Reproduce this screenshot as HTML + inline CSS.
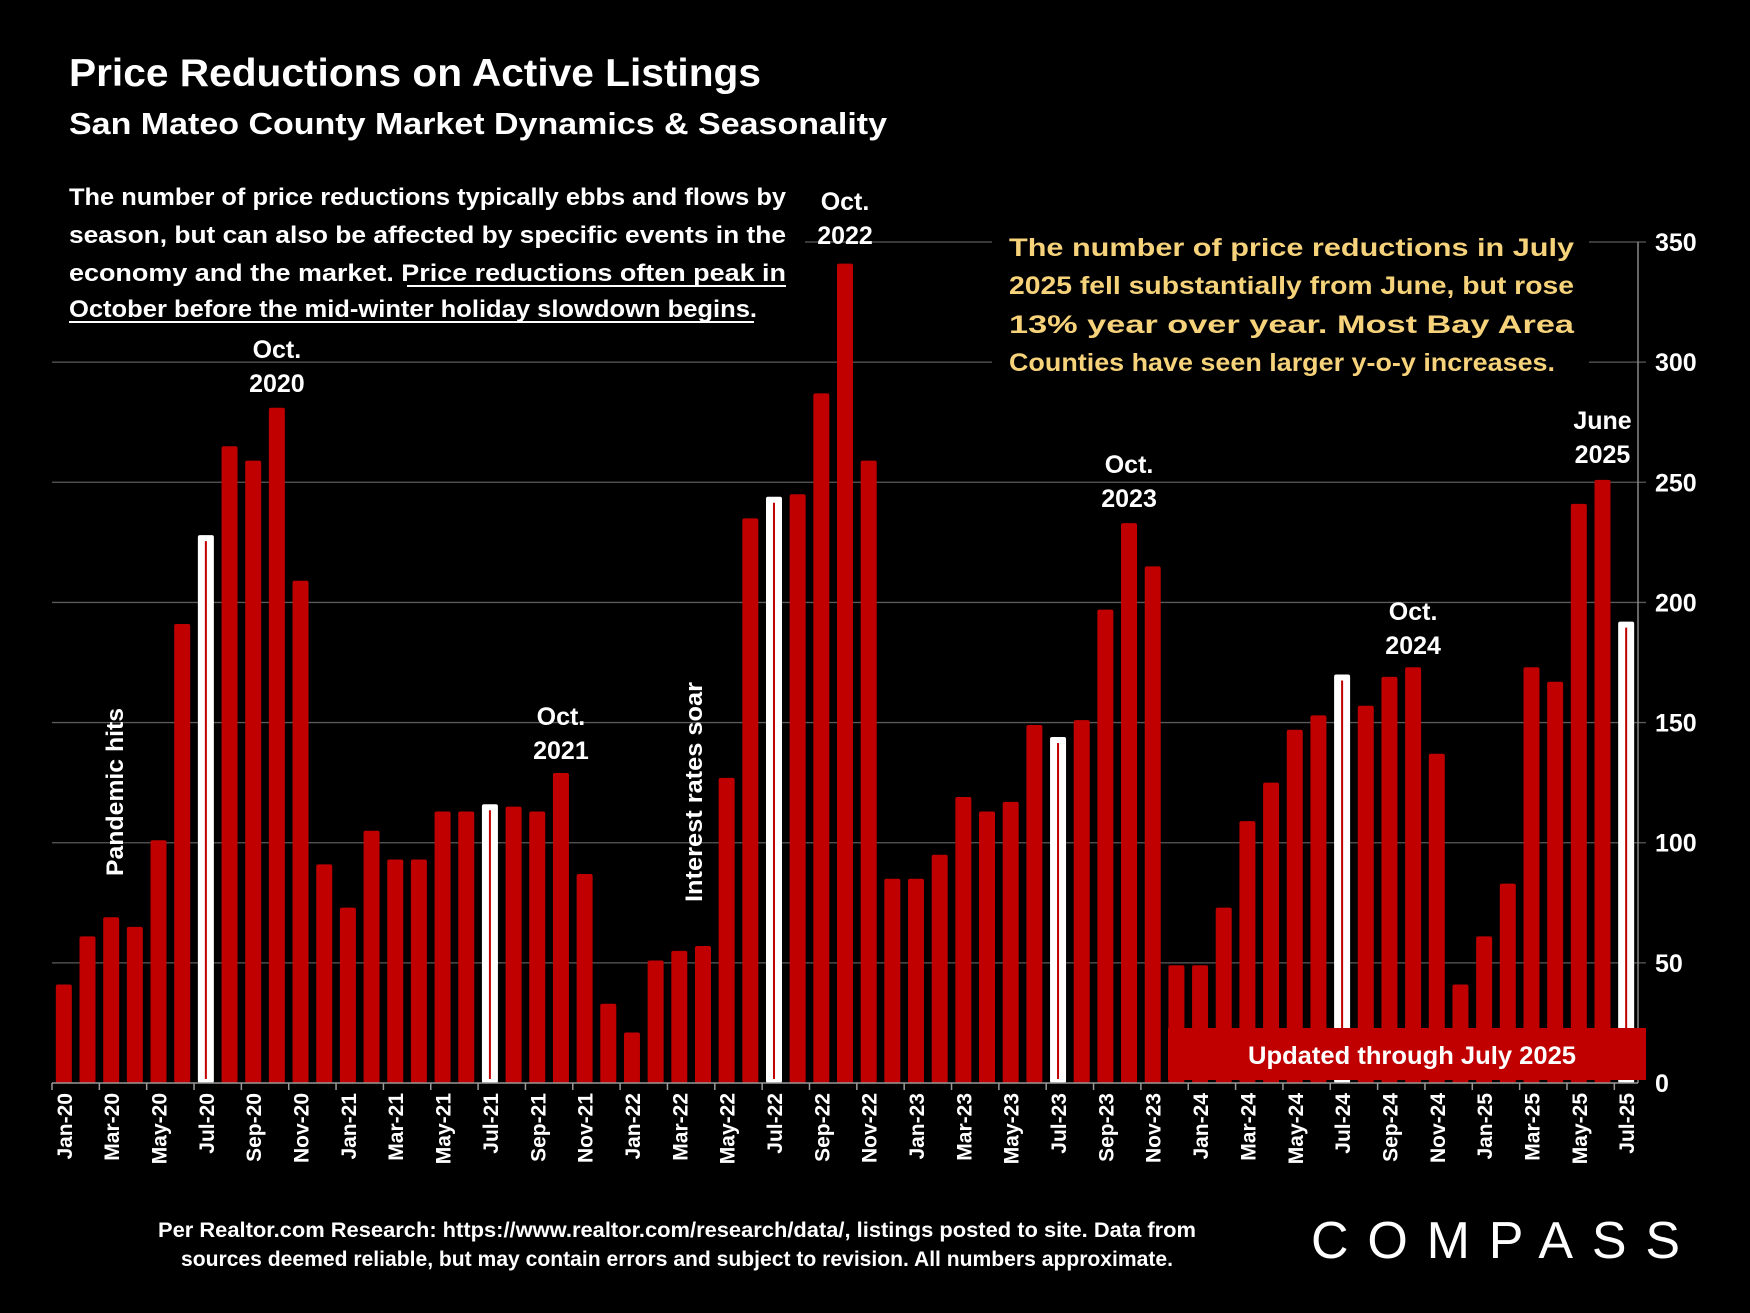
<!DOCTYPE html>
<html><head><meta charset="utf-8"><style>
html,body{margin:0;padding:0;background:#000;}
svg{display:block;font-family:"Liberation Sans",sans-serif;font-weight:bold;}
</style></head><body>
<svg id="chart" width="1750" height="1313" viewBox="0 0 1750 1313">
<rect width="1750" height="1313" fill="#000"/>
<g id="grid"></g>
<g id="bars"></g>
<g id="axes"></g>
<g id="overlay"></g>
</svg>
<script>
const months = ["Jan","Feb","Mar","Apr","May","Jun","Jul","Aug","Sep","Oct","Nov","Dec"];
const categories = [];
for (let y = 20; y <= 25; y++) for (let m = 0; m < 12; m++) { if (y === 25 && m > 6) break; categories.push(months[m] + "-" + y); }
const values = [41,61,69,65,101,191,228,265,259,281,209,91,
73,105,93,93,113,113,116,115,113,129,87,33,
21,51,55,57,127,235,244,245,287,341,259,85,
85,95,119,113,117,149,144,151,197,233,215,49,
49,73,109,125,147,153,170,157,169,173,137,41,
61,83,173,167,241,251,192];
const highlighted = ["Jul-20","Jul-21","Jul-22","Jul-23","Jul-24","Jul-25"];
const yTicks = [0,50,100,150,200,250,300,350];

const NS = "http://www.w3.org/2000/svg";
const X0 = 52, X1 = 1638, Y0 = 1083, YTOP = 242, YMAX = 350;
const band = (X1 - X0) / categories.length;
const xC = i => X0 + band * (i + 0.5);
const yS = v => Y0 - (v / YMAX) * (Y0 - YTOP);
function mk(tag, attrs, parent, text) {
  const e = document.createElementNS(NS, tag);
  for (const k in attrs) e.setAttribute(k, attrs[k]);
  if (text !== undefined) e.textContent = text;
  parent.appendChild(e);
  return e;
}
const grid = document.getElementById("grid"), barsG = document.getElementById("bars"),
      axes = document.getElementById("axes"), ov = document.getElementById("overlay");

yTicks.forEach(t => {
  if (t > 0) {
    const l = mk("line", {x1: X0, x2: X1 + 8, y1: yS(t), y2: yS(t), stroke: "#5a5a5a", "stroke-width": 1.3}, grid);
    
    
  }
  const tx = mk("text", {x: 1655, y: yS(t) + 9, fill: "#fff", "font-size": 25}, axes, String(t));
  
  
});
const ya = mk("line", {x1: X1, x2: X1, y1: YTOP, y2: Y0, stroke: "#888", "stroke-width": 1.5}, axes);



const bw = 16;
categories.forEach((c, i) => {
  const v = values[i], cx = xC(i), top = yS(v);
  const hi = highlighted.includes(c);
  const r = mk("rect", {x: cx - bw/2, y: top, width: bw, height: Y0 - top, rx: 2,
    fill: hi ? "#fff" : "#c00000"}, barsG);
  
  
  if (hi) {
    const s = mk("line", {x1: cx, x2: cx, y1: top + 6, y2: Y0 - 4, stroke: "#c00000", "stroke-width": 2}, barsG);
    
    
  }
  if (i % 2 === 0) {
    const tk = mk("line", {x1: X0 + band * i, x2: X0 + band * i, y1: Y0, y2: Y0 + 7, stroke: "#999", "stroke-width": 1.5}, axes);
    
    
    const lb = mk("text", {x: 0, y: 0, fill: "#fff", "font-size": 21, "text-anchor": "end",
      transform: `translate(${cx + 8},${Y0 + 10}) rotate(-90)`}, axes, c);
    
    
  }
});
const xa = mk("line", {x1: X0, x2: X1, y1: Y0, y2: Y0, stroke: "#999", "stroke-width": 1.5}, axes);



function ann(lines, idx, yFirst, name) {
  const cx = xC(categories.indexOf(idx));
  lines.forEach((t, k) => {
    const e = mk("text", {x: cx, y: yFirst + k * 34, fill: "#fff", "font-size": 25, "text-anchor": "middle"}, ov, t);
    
    
  });
}
ann(["Oct.", "2020"], "Oct-20", 358, "annotation-oct-2020");
ann(["Oct.", "2021"], "Oct-21", 725, "annotation-oct-2021");
ann(["Oct.", "2022"], "Oct-22", 210, "annotation-oct-2022");
ann(["Oct.", "2023"], "Oct-23", 473, "annotation-oct-2023");
ann(["Oct.", "2024"], "Oct-24", 620, "annotation-oct-2024");
ann(["June", "2025"], "Jun-25", 429, "annotation-june-2025");
</script>
<svg style="position:absolute;left:0;top:0" width="1750" height="1313" viewBox="0 0 1750 1313">
<text x="69" y="86" fill="#fff" font-size="39" font-weight="bold" font-family="Liberation Sans, sans-serif" textLength="692" lengthAdjust="spacingAndGlyphs">Price Reductions on Active Listings</text>
<text x="69" y="134" fill="#fff" font-size="31" font-weight="bold" font-family="Liberation Sans, sans-serif" textLength="818" lengthAdjust="spacingAndGlyphs">San Mateo County Market Dynamics &amp; Seasonality</text>
<g fill="#fff" font-size="24" font-weight="bold" font-family="Liberation Sans, sans-serif">
<rect x="0" y="178" width="805" height="150" fill="#000"/>
<text x="69" y="205" textLength="717" lengthAdjust="spacingAndGlyphs">The number of price reductions typically ebbs and flows by</text>
<text x="69" y="243" textLength="717" lengthAdjust="spacingAndGlyphs">season, but can also be affected by specific events in the</text>
<text x="69" y="281" textLength="717" lengthAdjust="spacingAndGlyphs">economy and the market. Price reductions often peak in</text>
<text x="69" y="317" textLength="688" lengthAdjust="spacingAndGlyphs">October before the mid-winter holiday slowdown begins.</text>
<line x1="407" y1="286" x2="786" y2="286" stroke="#fff" stroke-width="2"/>
<line x1="69" y1="322" x2="754" y2="322" stroke="#fff" stroke-width="2"/>
</g>
<g fill="#f6d37a" font-size="25" font-weight="bold" font-family="Liberation Sans, sans-serif">
<rect x="992" y="225" width="597" height="158" fill="#000"/>
<text x="1009" y="256" textLength="565" lengthAdjust="spacingAndGlyphs">The number of price reductions in July</text>
<text x="1009" y="294" textLength="565" lengthAdjust="spacingAndGlyphs">2025 fell substantially from June, but rose</text>
<text x="1009" y="333" textLength="565" lengthAdjust="spacingAndGlyphs">13% year over year. Most Bay Area</text>
<text x="1009" y="371" textLength="546" lengthAdjust="spacingAndGlyphs">Counties have seen larger y-o-y increases.</text>
</g>
<text transform="translate(123,792) rotate(-90)" text-anchor="middle" fill="#fff" font-size="24" font-weight="bold" font-family="Liberation Sans, sans-serif" textLength="168" lengthAdjust="spacingAndGlyphs">Pandemic hits</text>
<text transform="translate(702,792) rotate(-90)" text-anchor="middle" fill="#fff" font-size="24" font-weight="bold" font-family="Liberation Sans, sans-serif" textLength="220" lengthAdjust="spacingAndGlyphs">Interest rates soar</text>
<g>
<rect x="1168" y="1028" width="478" height="52" fill="#c00000"/>
<text x="1412" y="1064" text-anchor="middle" fill="#fff" font-size="25" font-weight="bold" font-family="Liberation Sans, sans-serif" textLength="328" lengthAdjust="spacingAndGlyphs">Updated through July 2025</text>
</g>
<g fill="#fff" font-size="21" font-weight="bold" font-family="Liberation Sans, sans-serif" text-anchor="middle">
<text x="677" y="1237" textLength="1038" lengthAdjust="spacingAndGlyphs">Per Realtor.com Research:  https://www.realtor.com/research/data/, listings posted to site. Data from</text>
<text x="677" y="1266" textLength="992" lengthAdjust="spacingAndGlyphs">sources deemed reliable, but may contain errors and subject to revision. All numbers approximate.</text>
</g>
<text x="1311" y="1258" fill="#fff" font-size="52" font-weight="normal" font-family="Liberation Sans, sans-serif" textLength="369" lengthAdjust="spacing">COMPASS</text>
</svg>
</body></html>
